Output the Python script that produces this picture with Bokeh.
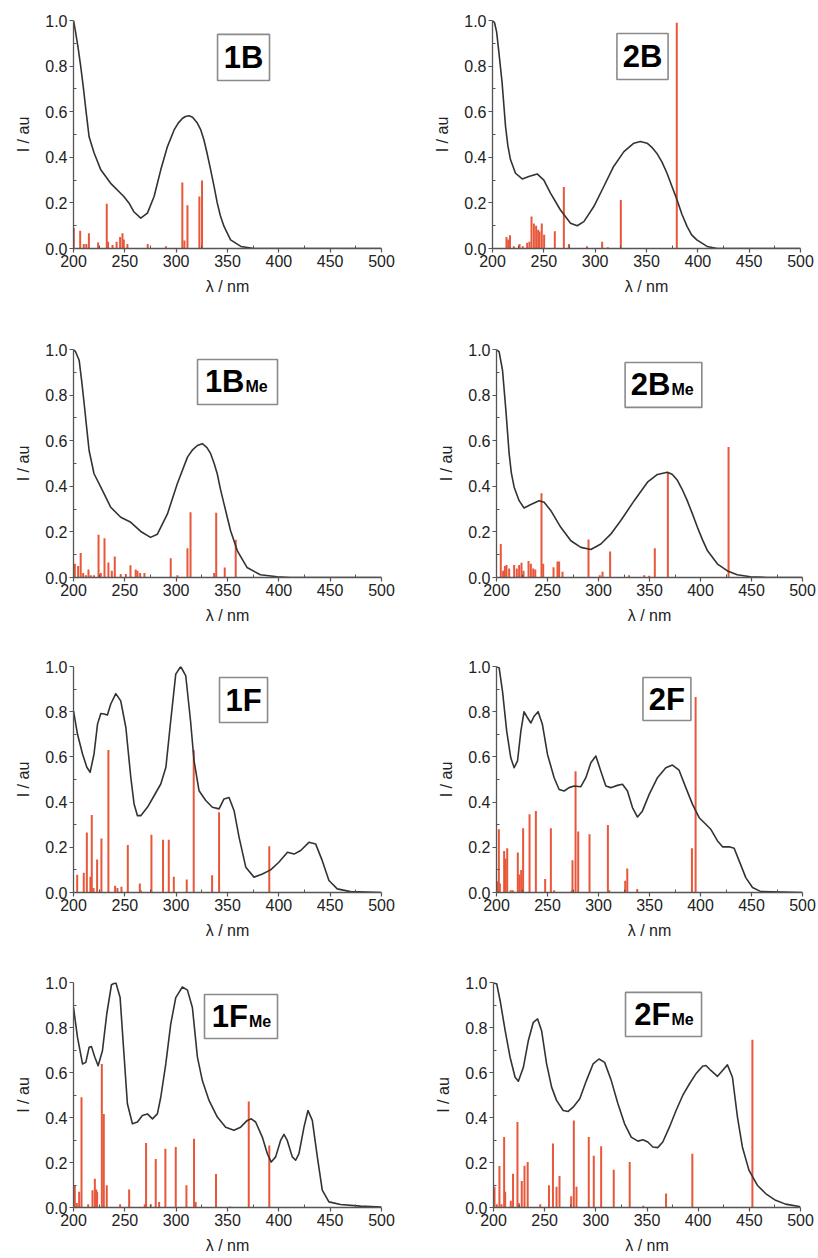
from bokeh.plotting import figure
from bokeh.models import Range1d, FixedTicker, PrintfTickFormatter, BoxAnnotation, Label, ColumnDataSource
from bokeh.layouts import column, row
from bokeh.embed import file_html
from bokeh.resources import INLINE

# ---------------- data ----------------
x_ticks = [200, 250, 300, 350, 400, 450, 500]
x_minor = [225, 275, 325, 375, 425, 475]
y_ticks = [0.0, 0.2, 0.4, 0.6, 0.8, 1.0]
y_minor = [0.1, 0.3, 0.5, 0.7, 0.9]

# 1B
b1_cx = [200, 202, 204.5, 207, 209.5, 212, 215.2, 220, 226.6, 236, 249, 254, 259, 265.5, 272, 278.5, 285, 291.5, 298,
         302, 306, 309, 312.5, 316, 320.6, 324, 327, 330, 333.6, 337, 340, 343, 346.6, 353, 363, 376, 500]
b1_cy = [1.0, 0.95, 0.88, 0.80, 0.71, 0.61, 0.49, 0.42, 0.345, 0.287, 0.228, 0.20, 0.16, 0.133, 0.155, 0.228, 0.345,
         0.447, 0.52, 0.55, 0.57, 0.579, 0.582, 0.576, 0.55, 0.52, 0.477, 0.42, 0.345, 0.27, 0.20, 0.145, 0.097, 0.038,
         0.009, 0.0, 0.0]
b1_sx = [200.3, 206.5, 210, 212.5, 215, 224, 232.4, 233.7, 238, 242, 245.4, 247.7, 249, 252.5, 272.3, 290, 306, 308,
         311, 322.6, 325.2]
b1_sh = [0.09, 0.078, 0.02, 0.02, 0.067, 0.026, 0.196, 0.03, 0.015, 0.03, 0.05, 0.067, 0.04, 0.02, 0.02, 0.01, 0.29,
         0.035, 0.19, 0.228, 0.298]

# 2B
b2_cx = [200, 202, 204, 206, 209.4, 212.7, 215, 217.5, 222.4, 229, 235.4, 243.5, 250, 256.5, 266, 276, 282.5, 289,
         298.7, 308.4, 318, 328, 337.7, 344, 350.6, 355, 360, 365, 370, 375, 379.8, 384.5, 389.6, 394, 399, 409, 419, 500]
b2_cy = [1.0, 0.99, 0.95, 0.87, 0.725, 0.535, 0.45, 0.39, 0.33, 0.305, 0.316, 0.327, 0.30, 0.243, 0.17, 0.111, 0.10,
         0.118, 0.184, 0.272, 0.36, 0.425, 0.462, 0.469, 0.462, 0.445, 0.418, 0.38, 0.33, 0.27, 0.213, 0.15, 0.096, 0.06,
         0.038, 0.009, 0.0, 0.0]
b2_sx = [213.6, 215.3, 217, 220.8, 226.3, 229.5, 233.8, 236, 238, 240.3, 242.5, 244.5, 245.8, 248, 250.3, 260.7, 269.5,
         274.4, 292, 306.8, 312.3, 325, 379.5]
b2_sh = [0.05, 0.04, 0.058, 0.01, 0.02, 0.01, 0.025, 0.03, 0.14, 0.11, 0.10, 0.082, 0.075, 0.11, 0.06, 0.076, 0.27,
         0.02, 0.01, 0.03, 0.005, 0.213, 0.99]

# 1B_Me
b1m_cx = [200, 202, 205.5, 208, 210.4, 213, 215.2, 220, 226.6, 236.3, 246, 255.8, 265.5, 275, 281.7, 291.5, 301, 311,
          316, 320.6, 325.5, 330, 333.6, 337, 340, 343, 346.6, 350, 353, 359.6, 369, 382, 398.5, 411, 500]
b1m_cy = [1.0, 0.99, 0.953, 0.86, 0.762, 0.65, 0.557, 0.455, 0.396, 0.308, 0.264, 0.242, 0.202, 0.176, 0.19, 0.279,
          0.41, 0.528, 0.56, 0.579, 0.587, 0.57, 0.543, 0.5, 0.455, 0.39, 0.323, 0.26, 0.205, 0.117, 0.044, 0.012, 0.003,
          0.0, 0.0]
b1m_sx = [201.3, 204.5, 207, 209.4, 212, 214.6, 216.9, 220, 224.4, 226.6, 230.2, 234, 237.3, 240.2, 246, 251, 255.5,
          260.6, 262.3, 264.9, 269.1, 294.7, 301.2, 311, 314, 337, 339, 347.3, 358]
b1m_sh = [0.06, 0.05, 0.107, 0.02, 0.01, 0.035, 0.01, 0.01, 0.188, 0.02, 0.172, 0.066, 0.03, 0.092, 0.015, 0.015,
          0.054, 0.035, 0.03, 0.02, 0.02, 0.084, 0.01, 0.128, 0.286, 0.02, 0.284, 0.044, 0.166]

# 2B_Me
b2m_cx = [200, 202.6, 205.9, 209.2, 212.4, 214.5, 217.3, 222.2, 227, 233.7, 241.8, 246.7, 253.3, 263, 272.9, 282.7,
          292.5, 302.3, 312, 321.9, 335, 348, 357.8, 367.6, 372.5, 377.5, 382, 387, 392, 397, 402, 406.9, 416.7, 426.5,
          436, 449, 466, 500]
b2m_cy = [1.0, 0.99, 0.909, 0.733, 0.543, 0.46, 0.396, 0.337, 0.305, 0.32, 0.337, 0.33, 0.293, 0.22, 0.161, 0.132,
          0.123, 0.147, 0.19, 0.25, 0.337, 0.418, 0.452, 0.462, 0.452, 0.425, 0.387, 0.337, 0.28, 0.22, 0.165, 0.117,
          0.059, 0.029, 0.012, 0.003, 0.0, 0.0]
b2m_sx = [204.2, 206.5, 208.2, 209.8, 212.4, 217.3, 219.9, 222.2, 224.5, 226.5, 231.4, 233.7, 236, 238, 244.1, 245.8,
          255.9, 259.8, 261.4, 264.7, 290.2, 301.3, 303.9, 311.4, 330, 344.8, 349.7, 355.2, 368, 427.5]
b2m_sh = [0.147, 0.03, 0.05, 0.055, 0.04, 0.055, 0.04, 0.055, 0.065, 0.03, 0.072, 0.06, 0.04, 0.035, 0.37, 0.06, 0.045,
          0.07, 0.07, 0.025, 0.167, 0.01, 0.025, 0.114, 0.01, 0.01, 0.008, 0.128, 0.459, 0.572]

# 1F
f1_cx = [200, 203.9, 208.8, 213, 216.2, 220, 223.4, 226.6, 229.8, 233, 236.3, 241.2, 246, 251, 255.8, 259, 262.3, 265.5,
         272, 278.5, 285, 290, 294.7, 299.6, 304.4, 309.3, 314, 317.4, 322.3, 328.8, 335.3, 341.8, 346.6, 351.5, 356.4,
         361.3, 367.8, 375.8, 384, 392, 400, 408.4, 414.8, 421.3, 429.3, 435.8, 442.3, 448.8, 456.9, 469.8, 500]
f1_cy = [0.804, 0.70, 0.613, 0.554, 0.532, 0.613, 0.745, 0.792, 0.79, 0.785, 0.834, 0.88, 0.848, 0.73, 0.51, 0.392, 0.34,
         0.34, 0.377, 0.428, 0.48, 0.554, 0.76, 0.966, 1.0, 0.96, 0.76, 0.583, 0.45, 0.407, 0.377, 0.37, 0.414, 0.42,
         0.362, 0.244, 0.112, 0.068, 0.082, 0.10, 0.134, 0.178, 0.17, 0.186, 0.222, 0.215, 0.141, 0.053, 0.016, 0.004, 0.0]
f1_sx = [203.6, 210, 213, 216.5, 217.8, 219.5, 223, 227.2, 234, 240.5, 242.8, 246.7, 252.9, 264.6, 265.5, 275.9, 287.2,
         292.8, 297.7, 310.3, 317.1, 335, 341.8, 390.7]
f1_sh = [0.078, 0.087, 0.265, 0.07, 0.343, 0.02, 0.146, 0.239, 0.63, 0.03, 0.02, 0.025, 0.21, 0.04, 0.01, 0.256, 0.233,
         0.233, 0.07, 0.057, 0.63, 0.076, 0.355, 0.205]

# 2F
f2_cx = [200, 202.6, 205.9, 210, 214, 217.3, 220.6, 223.9, 227, 230.4, 233.7, 236.9, 240.8, 245, 250, 256.5, 261.4,
         266.3, 271.2, 276.2, 282.7, 287.6, 292.5, 297.4, 302.3, 307.2, 312, 318.6, 323.5, 328.4, 333.3, 338.2, 343,
         349.7, 357.8, 366, 372.5, 379, 385.6, 392.2, 398.7, 405.2, 410, 416.7, 421.6, 428.1, 433, 437.9, 444.4, 451,
         459.2, 500]
f2_cy = [1.0, 0.994, 0.89, 0.714, 0.596, 0.552, 0.582, 0.714, 0.80, 0.773, 0.75, 0.78, 0.80, 0.744, 0.611, 0.508, 0.456,
         0.449, 0.464, 0.471, 0.468, 0.508, 0.574, 0.604, 0.537, 0.471, 0.464, 0.474, 0.479, 0.449, 0.376, 0.334, 0.36,
         0.434, 0.508, 0.552, 0.564, 0.541, 0.464, 0.39, 0.331, 0.302, 0.28, 0.228, 0.202, 0.202, 0.196, 0.14, 0.066,
         0.022, 0.004, 0.0]
f2_sx = [200.7, 201.6, 202.3, 203.3, 207.5, 208.8, 210.5, 214, 216, 220.9, 222.5, 224.2, 226.1, 232.4, 238.6, 247.7,
         253.3, 256.5, 273.9, 274.5, 277.5, 280.1, 291.2, 309.2, 310.5, 326.2, 328.2, 338, 391.6, 395.2]
f2_sh = [0.044, 0.05, 0.28, 0.04, 0.184, 0.15, 0.196, 0.01, 0.01, 0.177, 0.08, 0.1, 0.284, 0.346, 0.361, 0.06, 0.284,
         0.01, 0.01, 0.143, 0.537, 0.27, 0.258, 0.299, 0.01, 0.052, 0.106, 0.016, 0.196, 0.865]

# 1F_Me
f1m_cx = [200, 203.9, 208.8, 212, 215.2, 217.5, 220.8, 224, 228.2, 232.4, 237, 241.2, 245.4, 248.7, 252.5, 257.4, 262.3,
          267.1, 272, 276.9, 281.7, 285, 289.9, 294.7, 299.6, 306, 311, 315.8, 320.7, 325.5, 332, 340.1, 348.2, 356.3,
          362.8, 369.3, 373.2, 377.4, 383.9, 388.8, 392.6, 396.9, 401.7, 405, 408.2, 413.1, 416.4, 419.6, 424.5, 428.4,
          432.6, 437.5, 442.3, 448.8, 460.1, 479.6, 500]
f1m_cy = [0.889, 0.756, 0.638, 0.645, 0.712, 0.715, 0.668, 0.63, 0.697, 0.86, 0.99, 1.0, 0.933, 0.712, 0.461, 0.372,
          0.38, 0.409, 0.416, 0.394, 0.416, 0.49, 0.638, 0.815, 0.933, 0.98, 0.966, 0.889, 0.668, 0.564, 0.476, 0.402,
          0.357, 0.343, 0.357, 0.387, 0.394, 0.38, 0.313, 0.239, 0.202, 0.225, 0.298, 0.325, 0.298, 0.225, 0.21, 0.239,
          0.357, 0.431, 0.387, 0.225, 0.077, 0.025, 0.013, 0.006, 0.002]
f1m_sx = [201.3, 203.2, 205.5, 207.8, 214.3, 218.5, 220.8, 222.1, 223, 227.6, 229.5, 232.4, 245.4, 254.2, 269.4, 270.7,
          275.3, 280.1, 283.4, 289.5, 299.6, 310, 317.4, 319, 338.8, 352.5, 370.7, 390.7]
f1m_sh = [0.096, 0.02, 0.07, 0.49, 0.015, 0.077, 0.128, 0.08, 0.07, 0.638, 0.416, 0.099, 0.015, 0.08, 0.015, 0.287,
          0.015, 0.216, 0.025, 0.261, 0.269, 0.099, 0.306, 0.025, 0.149, 0.005, 0.471, 0.276]

# 2F_Me
f2m_cx = [200, 203.2, 206.5, 211.4, 216.2, 221.1, 224.3, 229.2, 234, 238.9, 243.1, 247, 251.9, 256.8, 261.6, 268.1, 273,
          277.8, 284.3, 290.8, 297.3, 303.1, 308.6, 315.1, 321.6, 328.1, 334.6, 341.1, 346, 350.8, 355.7, 360.5, 365.4,
          371.9, 378.4, 384.9, 391.4, 397.8, 404.3, 407.6, 412.4, 418.9, 423.8, 428.6, 433.5, 438.4, 443.2, 449.7, 457.8,
          465.9, 475.7, 485.4, 500]
f2m_cy = [1.0, 0.993, 0.919, 0.786, 0.668, 0.579, 0.561, 0.623, 0.741, 0.823, 0.838, 0.786, 0.638, 0.535, 0.476, 0.431,
          0.427, 0.446, 0.483, 0.564, 0.638, 0.66, 0.645, 0.564, 0.461, 0.372, 0.313, 0.295, 0.301, 0.291, 0.269, 0.266,
          0.291, 0.357, 0.431, 0.498, 0.549, 0.594, 0.628, 0.631, 0.609, 0.583, 0.609, 0.634, 0.579, 0.402, 0.269, 0.165,
          0.099, 0.062, 0.032, 0.015, 0.003]
f2m_sx = [201, 203.2, 205.8, 207.8, 210.4, 211.4, 216.9, 219.1, 223.4, 224.6, 227.6, 230.3, 233.4, 245.7, 254.2, 258.1,
          261.6, 264.5, 275.9, 278.5, 281.1, 293.1, 298, 305.2, 317.5, 333.1, 346.4, 368.6, 394.3, 453]
f2m_sh = [0.092, 0.015, 0.185, 0.015, 0.313, 0.07, 0.03, 0.15, 0.38, 0.02, 0.118, 0.186, 0.202, 0.015, 0.099, 0.284,
          0.092, 0.14, 0.05, 0.387, 0.092, 0.313, 0.23, 0.272, 0.168, 0.202, 0.008, 0.062, 0.239, 0.746]

names = ["1B", "2B", "1B", "2B", "1F", "2F", "1F", "2F"]
subs = ["", "", "Me", "Me", "", "", "Me", "Me"]
curves_x = [b1_cx, b2_cx, b1m_cx, b2m_cx, f1_cx, f2_cx, f1m_cx, f2m_cx]
curves_y = [b1_cy, b2_cy, b1m_cy, b2m_cy, f1_cy, f2_cy, f1m_cy, f2m_cy]
sticks_x = [b1_sx, b2_sx, b1m_sx, b2m_sx, f1_sx, f2_sx, f1m_sx, f2m_sx]
sticks_h = [b1_sh, b2_sh, b1m_sh, b2m_sh, f1_sh, f2_sh, f1m_sh, f2m_sh]

# ---------------- layout (positions / styles) ----------------
ROW_H = [329, 317, 316, 296]
FRAME_H = [228, 228, 226, 225]
RIGHT_BL = [92, 96, 96, 93]
RIGHT_FW = [308, 306, 306, 307]
# label boxes in data coordinates (left, right, bottom, top)
BOXES = [(340.3, 390.9, 0.737, 0.939), (321.2, 371.0, 0.741, 0.943),
         (320.8, 398.7, 0.759, 0.956), (326.1, 401.3, 0.746, 0.943),
         (342.2, 389.0, 0.752, 0.951), (343.6, 390.6, 0.761, 0.951),
         (327.6, 398.7, 0.751, 0.947), (329.0, 403.3, 0.760, 0.956)]

FONT = "Liberation Sans"
AX = "#555555"
TXT = "#222222"
RED = "#e8573a"


def make_panel(i):
    r, c = divmod(i, 2)
    if c == 0:
        w, bl, fw = 400, 73, 308
    else:
        w, bl, fw = 418, RIGHT_BL[r], RIGHT_FW[r]
    br = w - bl - fw
    h, bt, fh = ROW_H[r], 20, FRAME_H[r]
    bb = h - bt - fh
    p = figure(width=w, height=h, min_border_left=bl, min_border_right=br,
               min_border_top=bt, min_border_bottom=bb,
               x_range=Range1d(200, 500), y_range=Range1d(0, 1.0),
               output_backend="svg", toolbar_location=None, tools="")
    p.xgrid.visible = False
    p.ygrid.visible = False
    p.outline_line_color = None
    p.background_fill_color = "white"
    p.border_fill_color = "white"

    src = ColumnDataSource(dict(x=sticks_x[i], h=sticks_h[i]))
    p.segment(x0="x", y0=0, x1="x", y1="h", source=src, line_color=RED, line_width=2)
    p.line(curves_x[i], curves_y[i], line_color="#333333", line_width=1.6, line_join="round")

    xa = p.xaxis[0]
    ya = p.yaxis[0]
    xa.ticker = FixedTicker(ticks=x_ticks, minor_ticks=x_minor)
    ya.ticker = FixedTicker(ticks=y_ticks, minor_ticks=y_minor)
    xa.formatter = PrintfTickFormatter(format="%d")
    ya.formatter = PrintfTickFormatter(format="%.1f")
    xa.axis_label = "λ / nm"
    ya.axis_label = "I / au"
    for ax in (xa, ya):
        ax.axis_line_color = AX
        ax.axis_line_width = 1.3
        ax.major_tick_line_color = AX
        ax.major_tick_line_width = 1.2
        ax.major_tick_in = 0
        ax.major_tick_out = 4
        ax.minor_tick_line_color = AX
        ax.minor_tick_in = 3
        ax.minor_tick_out = 0
        ax.major_label_text_font = FONT
        ax.major_label_text_font_size = "16px"
        ax.major_label_text_color = TXT
        ax.major_label_standoff = 2
        ax.axis_label_text_font = FONT
        ax.axis_label_text_font_size = "16px"
        ax.axis_label_text_font_style = "normal"
        ax.axis_label_text_color = TXT
    xa.axis_label_standoff = 8
    ya.axis_label_standoff = 10

    l, rr, b, t = BOXES[i]
    p.add_layout(BoxAnnotation(left=l, right=rr, bottom=b, top=t, fill_color="white", fill_alpha=1.0,
                               line_color="#8a8a8a", line_width=1.6, line_alpha=1.0))
    mx = (l + rr) / 2
    my = (b + t) / 2
    if subs[i]:
        p.add_layout(Label(x=mx, y=my, x_offset=7, text=names[i], text_align="right",
                           text_baseline="middle", text_font=FONT, text_font_size="31px",
                           text_font_style="bold", text_color="black"))
        p.add_layout(Label(x=mx, y=my - 5.0 / fh, x_offset=8, text=subs[i], text_align="left",
                           text_baseline="middle", text_font=FONT, text_font_size="16px",
                           text_font_style="bold", text_color="black"))
    else:
        p.add_layout(Label(x=mx, y=my, text=names[i], text_align="center",
                           text_baseline="middle", text_font=FONT, text_font_size="31px",
                           text_font_style="bold", text_color="black"))
    return p


panels = [make_panel(i) for i in range(8)]
layout = column(*[row(panels[2 * k], panels[2 * k + 1]) for k in range(4)])

open("out.html", "w").write(file_html(layout, INLINE))
